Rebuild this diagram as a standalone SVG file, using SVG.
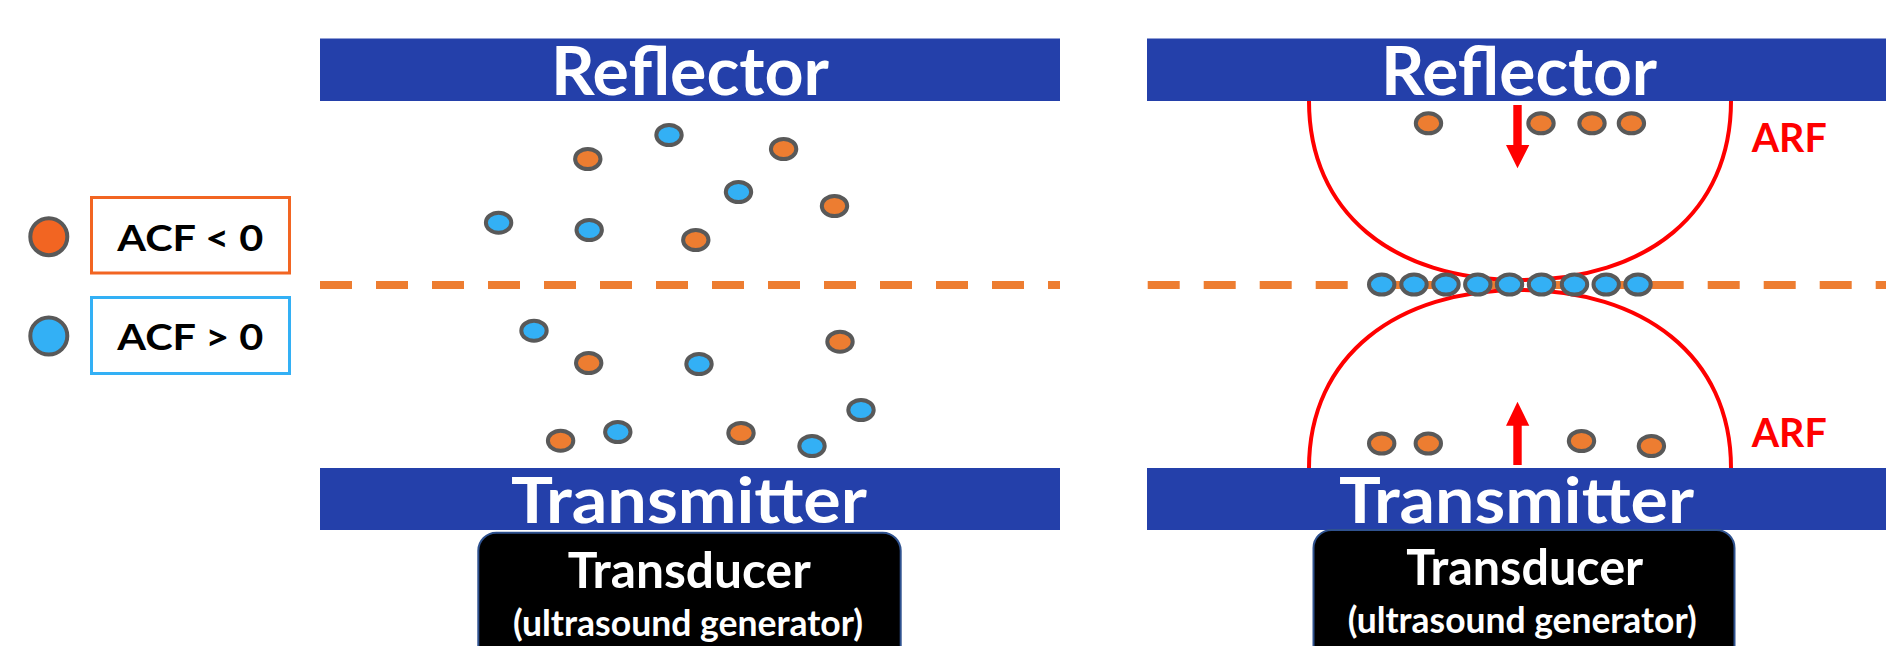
<svg xmlns="http://www.w3.org/2000/svg" width="1886" height="646" viewBox="0 0 1886 646">
<defs>
<style>
.bar{fill:#2440AA}
.bt{font-family:Lato,"Open Sans","Liberation Sans",sans-serif;font-weight:700;fill:#fff;text-anchor:middle}
.lt{font-family:Lato,"Open Sans","Liberation Sans",sans-serif;font-weight:700;fill:#000;text-anchor:middle;font-size:36px}
.arf{font-family:Lato,"Open Sans","Liberation Sans",sans-serif;font-weight:700;fill:#FF0000;font-size:40px}
.po{fill:#ED7D31;stroke:#595959;stroke-width:4}
.pb{fill:#33B0F5;stroke:#595959;stroke-width:4}
.dash{stroke:#ED7D31;stroke-width:8;stroke-dasharray:32 24;fill:none}
.arc{fill:none;stroke:#FF0000;stroke-width:4}
.box{fill:#000;stroke:#2F528F;stroke-width:2}
</style>
<ellipse id="p" cx="0" cy="0" rx="12.7" ry="10"/>
</defs>
<rect width="1886" height="646" fill="#fff"/>

<g id="legend">
<g id="legend-neg">
<circle cx="48.8" cy="236.7" r="18.5" fill="#F26522" stroke="#595959" stroke-width="4"/>
<rect x="91.5" y="197.5" width="198" height="75.5" fill="#fff" stroke="#F26522" stroke-width="3"/>
<text class="lt" x="190.3" y="251" textLength="146" lengthAdjust="spacingAndGlyphs">ACF &lt; 0</text>
</g>
<g id="legend-pos">
<circle cx="48.8" cy="336" r="18.5" fill="#33B0F5" stroke="#595959" stroke-width="4"/>
<rect x="91.5" y="297.5" width="198" height="76" fill="#fff" stroke="#33B0F5" stroke-width="3"/>
<text class="lt" x="190.3" y="350" textLength="146" lengthAdjust="spacingAndGlyphs">ACF &gt; 0</text>
</g>
</g>

<g id="left-panel">
<line class="dash" x1="320" y1="285" x2="1060" y2="285"/>
<g id="left-particles">
<use href="#p" class="po" x="587.8" y="159"/>
<use href="#p" class="pb" x="669" y="135"/>
<use href="#p" class="po" x="783.6" y="149"/>
<use href="#p" class="pb" x="738.5" y="192"/>
<use href="#p" class="po" x="834.5" y="206"/>
<use href="#p" class="pb" x="498.6" y="222.7"/>
<use href="#p" class="pb" x="589.2" y="230"/>
<use href="#p" class="po" x="695.8" y="240"/>
<use href="#p" class="pb" x="534" y="330.7"/>
<use href="#p" class="po" x="588.7" y="363"/>
<use href="#p" class="pb" x="699" y="364"/>
<use href="#p" class="po" x="840" y="341.7"/>
<use href="#p" class="pb" x="861" y="410"/>
<use href="#p" class="po" x="560.6" y="440.7"/>
<use href="#p" class="pb" x="617.8" y="432"/>
<use href="#p" class="po" x="741" y="433"/>
<use href="#p" class="pb" x="812" y="446"/>
</g>
<g id="left-reflector">
<rect class="bar" x="320" y="38.5" width="740" height="62.5"/>
<text class="bt" x="690" y="95" font-size="66" textLength="278" lengthAdjust="spacingAndGlyphs">Reflector</text>
</g>
<g id="left-transmitter">
<rect class="bar" x="320" y="468" width="740" height="62"/>
<text class="bt" x="689" y="523.3" font-size="64" textLength="356" lengthAdjust="spacingAndGlyphs">Transmitter</text>
</g>
<g id="left-transducer">
<rect class="box" x="478.3" y="532.7" width="422.4" height="140" rx="18"/>
<text class="bt" x="689.2" y="588.3" font-size="49" textLength="243" lengthAdjust="spacingAndGlyphs">Transducer</text>
<text class="bt" x="688" y="636" font-size="36" textLength="350" lengthAdjust="spacingAndGlyphs">(ultrasound generator)</text>
</g>
</g>

<g id="right-panel">
<g id="connectors">
<path class="arc" d="M1309,101 C1309,212 1392,280 1520,280 C1648,280 1731,212 1731,101"/>
<path class="arc" d="M1309,468 C1309,355 1398,290 1520,290 C1642,290 1731,355 1731,468"/>
<path d="M1513.3,105 H1521.7 V145 H1529.3 L1517.5,168.3 L1506,145 H1513.3 Z" fill="#FF0000"/>
<path d="M1513.3,465 H1521.7 V425.7 H1529.3 L1517.5,401.7 L1506,425.7 H1513.3 Z" fill="#FF0000"/>
</g>
<line class="dash" x1="1147.7" y1="285" x2="1886" y2="285"/>
<g id="right-particles">
<use href="#p" class="po" x="1428.5" y="123.3"/>
<use href="#p" class="po" x="1541" y="123.3"/>
<use href="#p" class="po" x="1592" y="123.3"/>
<use href="#p" class="po" x="1631.4" y="123.3"/>
<use href="#p" class="pb" x="1381.7" y="284.5"/>
<use href="#p" class="pb" x="1414" y="284.5"/>
<use href="#p" class="pb" x="1446" y="284.5"/>
<use href="#p" class="pb" x="1477.8" y="284.5"/>
<use href="#p" class="pb" x="1509.5" y="284.5"/>
<use href="#p" class="pb" x="1541.5" y="284.5"/>
<use href="#p" class="pb" x="1574.5" y="284.5"/>
<use href="#p" class="pb" x="1606.2" y="284.5"/>
<use href="#p" class="pb" x="1638" y="284.5"/>
<use href="#p" class="po" x="1381.7" y="443.5"/>
<use href="#p" class="po" x="1428.3" y="443.5"/>
<use href="#p" class="po" x="1581.5" y="441"/>
<use href="#p" class="po" x="1651.4" y="446"/>
</g>
<g id="arf-top"><text class="arf" x="1751.7" y="151.7" textLength="75" lengthAdjust="spacingAndGlyphs">ARF</text></g>
<g id="arf-bottom"><text class="arf" x="1751.7" y="447.3" textLength="75" lengthAdjust="spacingAndGlyphs">ARF</text></g>
<g id="right-reflector">
<rect class="bar" x="1147" y="38.5" width="740" height="62.5"/>
<text class="bt" x="1519" y="95" font-size="66" textLength="276" lengthAdjust="spacingAndGlyphs">Reflector</text>
</g>
<g id="right-transmitter">
<rect class="bar" x="1147" y="468" width="740" height="62"/>
<text class="bt" x="1516.5" y="523.3" font-size="64" textLength="355" lengthAdjust="spacingAndGlyphs">Transmitter</text>
</g>
<g id="right-transducer">
<rect class="box" x="1313.5" y="530" width="421" height="140" rx="18"/>
<text class="bt" x="1524.7" y="585" font-size="49" textLength="237" lengthAdjust="spacingAndGlyphs">Transducer</text>
<text class="bt" x="1522.2" y="633.3" font-size="36" textLength="349" lengthAdjust="spacingAndGlyphs">(ultrasound generator)</text>
</g>
</g>
</svg>
